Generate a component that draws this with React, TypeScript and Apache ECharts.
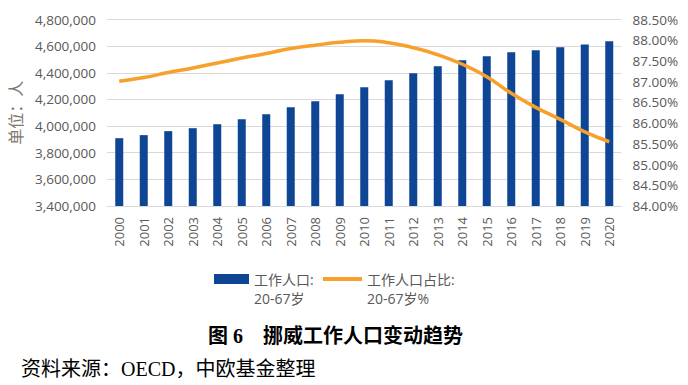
import React, { useEffect, useRef } from "react";
import * as echarts from "echarts";

const years = ["2000","2001","2002","2003","2004","2005","2006","2007","2008","2009","2010","2011","2012","2013","2014","2015","2016","2017","2018","2019","2020"];
const workingPop = [3909000,3932000,3962000,3984000,4014000,4052000,4089000,4142000,4187000,4239000,4291000,4344000,4396000,4449000,4494000,4524000,4554000,4569000,4591000,4613000,4636000];
const workingShare = [87.01,87.10,87.22,87.33,87.45,87.57,87.68,87.80,87.88,87.95,87.99,87.94,87.82,87.65,87.42,87.12,86.72,86.38,86.09,85.79,85.55];
const barName = "工作人口:\n20-67岁";
const lineName = "工作人口占比:\n20-67岁%";
const chartTitle = "图 6　挪威工作人口变动趋势";
const sourceText = "资料来源：OECD，中欧基金整理";
const yName = "单位：人";

const labelColor = "#595959";
const sansFont = '"Open Sans", "Noto Sans CJK SC", sans-serif';
const serifFont = '"Liberation Serif", "Noto Sans CJK SC", serif';

export default function App() {
  const ref = useRef<HTMLDivElement>(null);
  useEffect(() => {
    document.body.style.margin = "0";
    const chart = echarts.init(ref.current!, null, { renderer: "svg" });
    const legendText = {
      color: labelColor,
      fontSize: 14,
      fontFamily: sansFont,
      lineHeight: 19,
    };
    // a blank first line keeps the icon level with the first text line
    const legendFormatter = (name: string) => " \n" + name;
    chart.setOption({
      animation: false,
      title: [
        {
          text: chartTitle,
          left: 208,
          top: 326,
          padding: 0,
          textStyle: { fontSize: 20, fontWeight: "bold", fontFamily: serifFont, color: "#000" },
        },
        {
          text: sourceText,
          left: 21,
          top: 359,
          padding: 0,
          textStyle: { fontSize: 20, fontWeight: "normal", fontFamily: serifFont, color: "#000" },
        },
      ],
      legend: [
        {
          data: [{ name: barName, icon: "rect" }],
          left: 214,
          top: 250.5,
          padding: 0,
          itemWidth: 35,
          itemHeight: 10,
          itemGap: 6,
          formatter: legendFormatter,
          textStyle: legendText,
        },
        {
          data: [{ name: lineName, icon: "rect" }],
          left: 323,
          top: 250.5,
          padding: 0,
          itemWidth: 39,
          itemHeight: 4,
          itemGap: 4,
          formatter: legendFormatter,
          textStyle: legendText,
        },
      ],
      grid: { left: 107, right: 66.5, top: 19.5, bottom: 179, containLabel: false },
      xAxis: {
        type: "category",
        data: years,
        axisLine: { show: true, lineStyle: { color: "#d9d9d9", width: 1 } },
        axisTick: { show: false },
        axisLabel: { rotate: 90, color: labelColor, fontSize: 13, fontFamily: sansFont, margin: 11, interval: 0 },
      },
      yAxis: [
        {
          type: "value",
          min: 3400000,
          max: 4800000,
          interval: 200000,
          name: yName,
          nameLocation: "middle",
          nameRotate: 90,
          nameGap: 82,
          nameTextStyle: { color: "#80776f", fontSize: 16, fontFamily: sansFont },
          axisLine: { show: false },
          axisTick: { show: false },
          splitLine: { show: true, lineStyle: { color: "#d9d9d9", width: 1 } },
          axisLabel: {
            color: labelColor,
            fontSize: 13.5,
            fontFamily: sansFont,
            margin: 11,
            formatter: (v: number) => v.toLocaleString("en-US"),
          },
        },
        {
          type: "value",
          min: 84,
          max: 88.5,
          interval: 0.5,
          position: "right",
          axisLine: { show: false },
          axisTick: { show: false },
          splitLine: { show: false },
          axisLabel: {
            color: labelColor,
            fontSize: 13.5,
            fontFamily: sansFont,
            margin: 11,
            formatter: (v: number) => v.toFixed(2) + "%",
          },
        },
      ],
      series: [
        {
          name: barName,
          type: "bar",
          data: workingPop,
          barWidth: 8,
          itemStyle: { color: "#0f4595" },
          yAxisIndex: 0,
        },
        {
          name: lineName,
          type: "line",
          data: workingShare,
          yAxisIndex: 1,
          smooth: true,
          symbol: "none",
          lineStyle: { color: "#f7a02c", width: 3.5 },
          itemStyle: { color: "#f7a02c" },
        },
      ],
    });
    return () => chart.dispose();
  }, []);
  return <div ref={ref} style={{ width: 688, height: 385, position: "absolute", left: 0, top: 0 }} />;
}
